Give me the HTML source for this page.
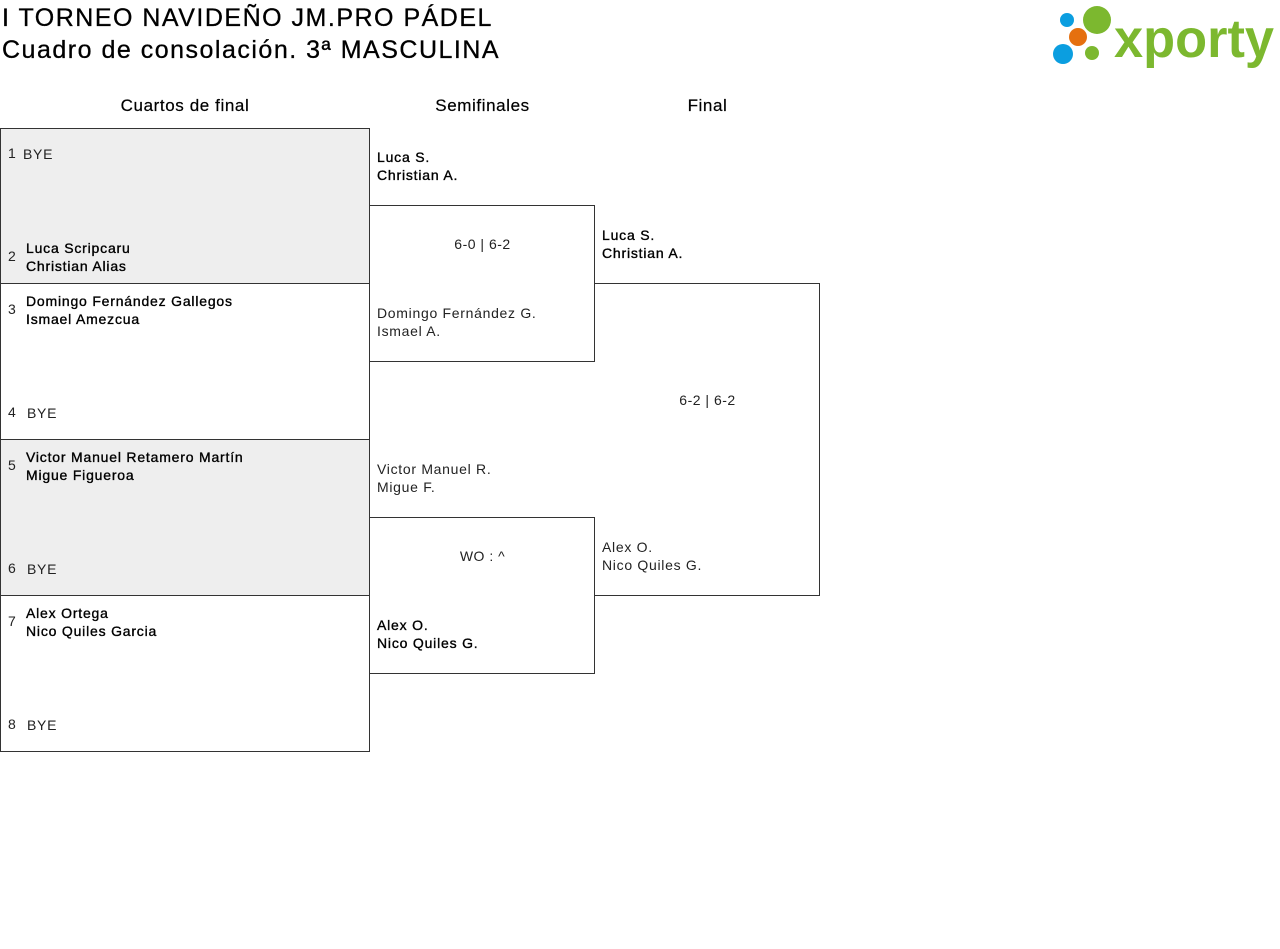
<!DOCTYPE html>
<html><head><meta charset="utf-8"><style>
body{margin:0;width:1280px;height:949px;background:#fff;font-family:"Liberation Sans",sans-serif;position:relative;overflow:hidden}
.a{position:absolute}
.t{font-size:25px;color:#000;left:2px;line-height:31px;letter-spacing:1.5px;-webkit-text-stroke:0.3px #000}
.h{font-size:17px;color:#000;top:96px;text-align:center;letter-spacing:0.6px;-webkit-text-stroke:0.2px #000}
.b{position:absolute;border:1px solid #333;box-sizing:border-box}
.g{background:#eee}
.n{position:absolute;font-size:14px;line-height:18px;color:#000;letter-spacing:0.8px;-webkit-text-stroke:0.35px #000}
.l{color:#222;font-size:14px;line-height:18px;position:absolute;letter-spacing:0.7px}
.num{position:absolute;font-size:14px;color:#222}
.c{position:absolute;font-size:14px;color:#222;text-align:center;letter-spacing:0.5px}
</style></head><body>
<div class="a t" style="top:3px">I TORNEO NAVIDEÑO JM.PRO PÁDEL</div>
<div class="a t" style="top:35px">Cuadro de consolación. 3ª MASCULINA</div>

<svg class="a" style="left:1040px;top:0" width="240" height="75">
<circle cx="27" cy="20" r="7" fill="#0b9ee0"/>
<circle cx="57" cy="20" r="14" fill="#7cb82f"/>
<circle cx="38" cy="37" r="9" fill="#e5700f"/>
<circle cx="23" cy="54" r="10" fill="#0b9ee0"/>
<circle cx="52" cy="53" r="7" fill="#7cb82f"/>
<text x="74" y="57" font-family="Liberation Sans" font-weight="bold" font-size="54" fill="#7cb82f" textLength="160" lengthAdjust="spacingAndGlyphs">xporty</text>
</svg>

<div class="a h" style="left:0;width:370px">Cuartos de final</div>
<div class="a h" style="left:370px;width:225px">Semifinales</div>
<div class="a h" style="left:595px;width:225px">Final</div>

<div class="b g" style="left:0;top:128px;width:370px;height:156px"></div>
<div class="b" style="left:0;top:283px;width:370px;height:157px"></div>
<div class="b g" style="left:0;top:439px;width:370px;height:157px"></div>
<div class="b" style="left:0;top:595px;width:370px;height:157px"></div>

<div class="b" style="left:594px;top:283px;width:226px;height:313px;background:#fff;border-left:none"></div>
<div class="b" style="left:369px;top:205px;width:226px;height:157px;background:#fff"></div>
<div class="b" style="left:369px;top:517px;width:226px;height:157px;background:#fff"></div>

<div class="num" style="left:8px;top:145px">1</div><div class="l" style="left:23px;top:145px">BYE</div>
<div class="num" style="left:8px;top:248px">2</div><div class="n" style="left:26px;top:239px">Luca Scripcaru<br>Christian Alias</div>
<div class="num" style="left:8px;top:301px">3</div><div class="n" style="left:26px;top:292px">Domingo Fernández Gallegos<br>Ismael Amezcua</div>
<div class="num" style="left:8px;top:404px">4</div><div class="l" style="left:27px;top:404px">BYE</div>
<div class="num" style="left:8px;top:457px">5</div><div class="n" style="left:26px;top:448px">Victor Manuel Retamero Martín<br>Migue Figueroa</div>
<div class="num" style="left:8px;top:560px">6</div><div class="l" style="left:27px;top:560px">BYE</div>
<div class="num" style="left:8px;top:613px">7</div><div class="n" style="left:26px;top:604px">Alex Ortega<br>Nico Quiles Garcia</div>
<div class="num" style="left:8px;top:716px">8</div><div class="l" style="left:27px;top:716px">BYE</div>

<div class="n" style="left:377px;top:148px">Luca S.<br>Christian A.</div>
<div class="c" style="left:370px;width:225px;top:236px">6-0 | 6-2</div>
<div class="l" style="left:377px;top:304px">Domingo Fernández G.<br>Ismael A.</div>
<div class="l" style="left:377px;top:460px">Victor Manuel R.<br>Migue F.</div>
<div class="c" style="left:370px;width:225px;top:548px">WO : ^</div>
<div class="n" style="left:377px;top:616px">Alex O.<br>Nico Quiles G.</div>

<div class="n" style="left:602px;top:226px">Luca S.<br>Christian A.</div>
<div class="c" style="left:595px;width:225px;top:392px">6-2 | 6-2</div>
<div class="l" style="left:602px;top:538px">Alex O.<br>Nico Quiles G.</div>
</body></html>
